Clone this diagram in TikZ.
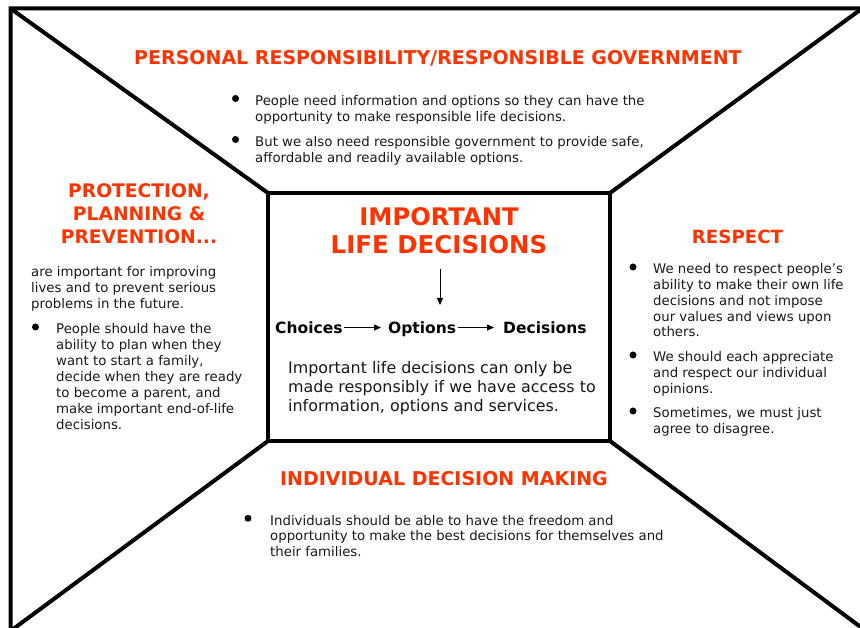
\documentclass[tikz,border=0pt]{standalone}
\usepackage{fontspec}
\setmainfont{DejaVu Sans}
\usetikzlibrary{arrows.meta}
\definecolor{hd}{RGB}{255,51,0}
\definecolor{tx}{RGB}{25,25,25}
\begin{document}
\begin{tikzpicture}[x=1pt,y=-1pt,
  frame/.style={line width=4pt, line join=miter},
  head/.style={font=\bfseries\fontsize{19}{23}\selectfont, text=hd, inner sep=0pt, anchor=base},
  body/.style={font=\fontsize{13.3}{16}\selectfont, text=tx, inner sep=0pt, anchor=north west, align=left},
  bul/.style={circle, fill=black, inner sep=0pt, minimum size=7pt},
  rowtxt/.style={font=\bfseries\fontsize{15.5}{18}\selectfont, text=black, inner sep=0pt, anchor=base west},
  arr/.style={line width=1.1pt, -{Triangle[length=7pt,width=6pt]}},
]
\useasboundingbox (0,0) rectangle (860,628);
\fill[white] (0,0) rectangle (860,628);
\begin{scope}
\clip (0,0) rectangle (860,628);
\coordinate (o1) at (10.5,8.5);
\coordinate (o2) at (862,8.5);
\coordinate (o3) at (866,631);
\coordinate (o4) at (10.5,631);
\coordinate (i1) at (268,193);
\coordinate (i2) at (610,193);
\coordinate (i3) at (610,441);
\coordinate (i4) at (268,441);
\draw[frame] (o1) -- (o2) -- (o3) -- (o4) -- cycle;
\draw[frame] (o1) -- (i1);
\draw[frame] (o2) -- (i2);
\draw[frame] (o3) -- (i3);
\draw[frame] (o4) -- (i4);
\draw[frame] (i1) -- (i2) -- (i3) -- (i4) -- cycle;
\end{scope}

% top panel
\node[head] (th) at (438,65) {PERSONAL RESPONSIBILITY/RESPONSIBLE GOVERNMENT};
\node[bul] (tb1) at (235.5,98.5) {};
\node[body] (t1) at (255,95) {People need information and options so they can have the\\opportunity to make responsible life decisions.};
\node[bul] (tb2) at (235.5,139.5) {};
\node[body] (t2) at (255,136) {But we also need responsible government to provide safe,\\affordable and readily available options.};

% left panel
\node[head, anchor=north, align=center, font=\bfseries\fontsize{18.7}{23}\selectfont] (lh) at (139,183.4) {PROTECTION,\\PLANNING \&\\PREVENTION...};
\node[body] (l0) at (31,266) {are important for improving\\lives and to prevent serious\\problems in the future.};
\node[bul] (lb1) at (35.5,327) {};
\node[body] (l1) at (56,323) {People should have the\\ability to plan when they\\want to start a family,\\decide when they are ready\\to become a parent, and\\make important end-of-life\\decisions.};

% right panel
\node[head, font=\bfseries\fontsize{18.2}{22}\selectfont] (rh) at (737.5,243.3) {RESPECT};
\node[bul] (rb1) at (633,267) {};
\node[body, font=\fontsize{13.3}{15.85}\selectfont] (r1) at (653,263.2) {We need to respect people’s\\ability to make their own life\\decisions and not impose\\our values and views upon\\others.};
\node[bul] (rb2) at (633,355) {};
\node[body, font=\fontsize{13.3}{15.85}\selectfont] (r2) at (653,351.6) {We should each appreciate\\and respect our individual\\opinions.};
\node[bul] (rb3) at (633,411) {};
\node[body, font=\fontsize{13.3}{15.85}\selectfont] (r3) at (653,407.2) {Sometimes, we must just\\agree to disagree.};

% center
\node[head, font=\bfseries\fontsize{24.2}{27}\selectfont] (c1) at (439,226) {IMPORTANT};
\node[head, font=\bfseries\fontsize{24.5}{27}\selectfont] (c2) at (439,253.3) {LIFE DECISIONS};
\coordinate (d1) at (440,269);
\coordinate (d2) at (440,305);
\draw[arr, line width=0.9pt] (d1) -- (d2);
\node[rowtxt] (ch) at (275,333.3) {Choices};
\node[rowtxt] (op) at (388,333.3) {Options};
\node[rowtxt] (de) at (503,333.3) {Decisions};
\draw[arr, shorten <=1.3pt, shorten >=7pt] (ch.east) -- (ch.east -| op.west);
\draw[arr, shorten <=1.5pt, shorten >=9pt] (ch.east -| op.east) -- (ch.east -| de.west);
\node[body, font=\fontsize{15.9}{19.2}\selectfont] (cp) at (288,361.2) {Important life decisions can only be\\made responsibly if we have access to\\information, options and services.};

% bottom panel
\node[head] (bh) at (444,485) {INDIVIDUAL DECISION MAKING};
\node[bul] (bb1) at (248,518.3) {};
\node[body, font=\fontsize{13.3}{15.5}\selectfont] (b1) at (270,514.9) {Individuals should be able to have the freedom and\\opportunity to make the best decisions for themselves and\\their families.};
\end{tikzpicture}
\end{document}
